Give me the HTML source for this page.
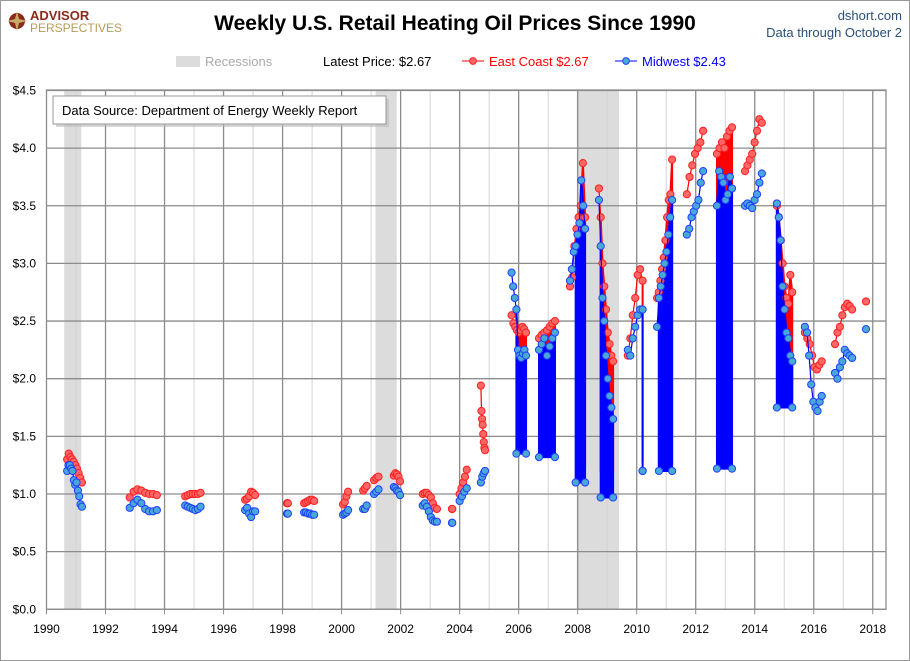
<!DOCTYPE html>
<html><head><meta charset="utf-8"><style>
body{margin:0;background:#fff;font-family:"Liberation Sans",sans-serif}
#wrap{position:relative;width:910px;height:661px;overflow:hidden}
</style></head><body>
<div id="wrap">
<svg id="chart" width="910" height="661" viewBox="0 0 910 661"></svg>
</div>
<script>
const recessions=[[1990.6,1991.18],[2001.15,2001.87],[2007.97,2009.4]];
const yTicks=[0,0.5,1,1.5,2,2.5,3,3.5,4,4.5];
const yTickLabels=["$0.0","$0.5","$1.0","$1.5","$2.0","$2.5","$3.0","$3.5","$4.0","$4.5"];
const xTicks=[1990,1992,1994,1996,1998,2000,2002,2004,2006,2008,2010,2012,2014,2016,2018];
const seasonStart=[1990.7,1992.82,1994.7,1996.73,1998.15,1998.73,2000.05,2000.73,2001.1,2001.77,2002.75,2003.74,2004.0,2004.72,2005.76,2006.69,2007.74,2008.72,2009.7,2010.69,2011.7,2012.72,2013.67,2014.75,2015.7,2016.72,2017.77];
const seasonEnd=[1991.2,1993.74,1995.22,1997.07,1998.18,1999.07,2000.22,2000.85,2001.25,2001.98,2003.23,2003.75,2004.24,2004.86,2006.25,2007.23,2008.25,2009.2,2010.2,2011.2,2012.25,2013.23,2014.24,2015.27,2016.27,2017.3,2017.78];
const eastVals=[
[1.30,1.35,1.32,1.30,1.28,1.25,1.22,1.18,1.14,1.10],
[0.97,1.02,1.04,1.03,1.01,1.00,1.00,0.99],
[0.98,0.99,1.00,1.00,1.00,1.00,1.01],
[0.95,0.96,0.98,1.02,1.01,0.99],
[0.92,0.92],
[0.92,0.93,0.94,0.95,0.95,0.94],
[0.91,0.93,0.98,1.02],
[1.03,1.05,1.07],
[1.12,1.14,1.15],
[1.16,1.18,1.17,1.15,1.11],
[1.00,1.01,1.01,0.99,0.97,0.92,0.88,0.87],
[0.87,0.87],
[1.00,1.05,1.10,1.15,1.21],
[1.94,1.72,1.65,1.60,1.52,1.45,1.40,1.38],
[2.55,2.48,2.45,2.42,2.40,2.42,2.45,2.43,2.40],
[2.35,2.38,2.40,2.42,2.45,2.48,2.50],
[2.80,2.88,3.15,3.30,3.40,3.50,3.87,3.40],
[3.65,3.40,3.00,2.80,2.60,2.40,2.30,2.20,2.15],
[2.20,2.35,2.55,2.70,2.90,2.95,2.85],
[2.70,2.75,2.85,2.95,3.05,3.20,3.40,3.55,3.60,3.90],
[3.60,3.75,3.85,3.95,4.00,4.05,4.15],
[3.95,4.00,4.05,4.00,4.10,4.15,4.18],
[3.80,3.85,3.90,3.95,4.05,4.15,4.25,4.22],
[3.50,3.40,3.20,3.00,2.80,2.70,2.65,2.90,2.75],
[2.40,2.35,2.30,2.20,2.10,2.08,2.12,2.15],
[2.30,2.40,2.45,2.55,2.62,2.65,2.63,2.60],
[2.67]];
const midVals=[
[1.20,1.25,1.25,1.22,1.20,1.12,1.08,1.10,1.03,0.98,0.91,0.89],
[0.88,0.92,0.95,0.92,0.87,0.85,0.85,0.86],
[0.90,0.89,0.88,0.87,0.86,0.87,0.89],
[0.86,0.88,0.83,0.80,0.85,0.85],
[0.83,0.83],
[0.84,0.84,0.83,0.83,0.82,0.82],
[0.82,0.83,0.84,0.86],
[0.87,0.87,0.90],
[1.00,1.02,1.04],
[1.06,1.05,1.03,1.02,0.99],
[0.90,0.92,0.89,0.85,0.80,0.77,0.76,0.76],
[0.75,0.75],
[0.94,0.98,1.02,1.05],
[1.10,1.15,1.18,1.20],
[2.92,2.80,2.70,2.60,2.25,2.20,2.18,2.22,2.25,2.20],
[2.25,2.30,2.35,2.20,2.28,2.35,2.40],
[2.85,2.95,3.10,3.15,3.25,3.35,3.72,3.50,3.30],
[3.55,3.15,2.70,2.50,2.20,2.00,1.85,1.75,1.65],
[2.25,2.20,2.35,2.45,2.55,2.60,2.60],
[2.45,2.70,2.80,2.90,3.00,3.10,3.25,3.40,3.55],
[3.25,3.30,3.40,3.45,3.50,3.55,3.70,3.80],
[3.50,3.80,3.75,3.70,3.55,3.60,3.75,3.65],
[3.50,3.52,3.50,3.48,3.55,3.60,3.70,3.78],
[3.52,3.40,3.20,2.80,2.60,2.40,2.35,2.20,2.15],
[2.45,2.40,2.20,1.95,1.80,1.75,1.72,1.80,1.85],
[2.05,2.00,2.10,2.15,2.25,2.22,2.20,2.18],
[2.43]];
// band seasons (index into seasons), low values reached by the zig-zag, and fraction where band starts
const bandSeason=[14,15,16,17,18,19,21,23];
const bandLowEast=[1.55,1.55,1.25,1.20,1.28,1.25,1.35,1.82];
const bandLowMid=[1.35,1.32,1.10,0.97,1.20,1.20,1.22,1.75];
const bandFrom=[0.3,0,0.3,0.05,0.9,0.05,0,0];

const NS="http://www.w3.org/2000/svg";
const svg=document.getElementById('chart');
const L=46.5,R=886,T=90,B=609.3;
const X=t=>L+(t-1990)*29.51;
const Y=v=>B-v*115.3;
function mk(tag,attrs,parent){const e=document.createElementNS(NS,tag);for(const k in attrs)e.setAttribute(k,attrs[k]);(parent||svg).appendChild(e);return e;}

// border
let e=mk('rect',{x:0.5,y:0.5,width:909,height:660,fill:'#fff',stroke:'#999'});



// recessions
const gRec=mk('g',{});


recessions.forEach(r=>{const b=mk('rect',{x:X(r[0]),y:T,width:X(r[1])-X(r[0]),height:B-T,fill:'#dcdcdc'},gRec);

});

// grid
const gGrid=mk('g',{});


for(let yr=1991;yr<=2018;yr++){const major=(yr%2===0);
 mk('line',{x1:X(yr),x2:X(yr),y1:T,y2:B,stroke:major?'#8c8c8c':'#d4d4d4','stroke-width':major?1.3:1},gGrid);}
yTicks.forEach(v=>mk('line',{x1:L,x2:R,y1:Y(v),y2:Y(v),stroke:'#8c8c8c','stroke-width':1.3},gGrid));
e=mk('rect',{x:L,y:T,width:R-L,height:B-T,fill:'none',stroke:'#8c8c8c','stroke-width':1.3});



// axes labels
const gY=mk('g',{});


yTicks.forEach((v,i)=>{const t=mk('text',{x:36,y:Y(v)+4,'text-anchor':'end','font-size':12,fill:'#000'},gY);t.textContent=yTickLabels[i];

});
const gX=mk('g',{});


xTicks.forEach(yr=>{mk('line',{x1:X(yr),x2:X(yr),y1:B,y2:B+5,stroke:'#8c8c8c'},gX);
 const t=mk('text',{x:X(yr),y:633,'text-anchor':'middle','font-size':12,fill:'#000'},gX);t.textContent=yr;
 
 });

function pts(si,vals){const a=seasonStart[si],b=seasonEnd[si],n=vals.length;return vals.map((v,i)=>[n>1?a+(b-a)*i/(n-1):a,v]);}

// bands
const gBand=mk('g',{});


bandSeason.forEach((si,k)=>{
 const a=seasonStart[si]+(seasonEnd[si]-seasonStart[si])*bandFrom[k];
 const ep=pts(si,eastVals[si]).filter(p=>p[0]>=a-0.001), mp=pts(si,midVals[si]).filter(p=>p[0]>=a-0.001);
 if(ep.length){let d='M'+X(ep[0][0])+','+Y(bandLowEast[k]);ep.forEach(p=>d+=' L'+X(p[0])+','+Y(p[1]));d+=' L'+X(ep[ep.length-1][0])+','+Y(bandLowEast[k])+'Z';
  const r=mk('path',{d:d,fill:'#ff0000',stroke:'#ff0000','stroke-width':2},gBand);
  
  }
 if(mp.length){let d='M'+X(mp[0][0])+','+Y(bandLowMid[k]);mp.forEach(p=>d+=' L'+X(p[0])+','+Y(p[1]));d+=' L'+X(mp[mp.length-1][0])+','+Y(bandLowMid[k])+'Z';
  const r=mk('path',{d:d,fill:'#0000ff',stroke:'#0000ff','stroke-width':2},gBand);
  
  
  [0,mp.length-1].forEach(j=>{const c=mk('circle',{cx:X(mp[j][0]),cy:Y(bandLowMid[k]),r:3.6,fill:'#4aa8d8',stroke:'#1f3fff'},gBand);
   
   });}
});

// series
function series(vals,line,fill,stroke,name){
 const g=mk('g',{});
 
 
 vals.forEach((arr,si)=>{const p=pts(si,arr);
  if(p.length>1){const pl=mk('polyline',{points:p.map(q=>X(q[0])+','+Y(q[1])).join(' '),fill:'none',stroke:line,'stroke-width':1.2},g);
   
   }
  p.forEach(q=>{const c=mk('circle',{cx:X(q[0]),cy:Y(q[1]),r:3.6,fill:fill,stroke:stroke,'stroke-width':1},g);
   
   });
 });
}
// connectors between 2004 seasons
series(eastVals,'#ff0000','#ff6666','#ff2020','east-coast');
series(midVals,'#0000ff','#4aa8d8','#1f3fff','midwest');

// data source box
const gBox=mk('g',{});


mk('rect',{x:56,y:99,width:333,height:28,fill:'#bbb',opacity:0.6},gBox);
mk('rect',{x:53,y:96,width:333,height:28,fill:'#fff',stroke:'#999'},gBox);
e=mk('text',{x:62,y:115,'font-size':13,fill:'#000'},gBox);e.textContent='Data Source: Department of Energy Weekly Report';



// header
function txt(x,y,s,attrs,name){const t=mk('text',Object.assign({x:x,y:y},attrs));t.textContent=s;
 
 return t;}
txt(455,30,'Weekly U.S. Retail Heating Oil Prices Since 1990',{'text-anchor':'middle','font-size':21,'font-weight':'bold',fill:'#000'},'chart-title');
txt(902,20,'dshort.com',{'text-anchor':'end','font-size':13,fill:'#2a4f7a'},'site-name');
txt(902,37,'Data through October 2',{'text-anchor':'end','font-size':13,fill:'#2a4f7a'},'data-through-note');
// logo
const gLogo=mk('g',{});


mk('circle',{cx:17,cy:21,r:8,fill:'#8b2a1a'},gLogo);
mk('path',{d:'M17 11 L19 19 L27 21 L19 23 L17 31 L15 23 L7 21 L15 19Z',fill:'#c9a86a'},gLogo);
txt(30,20,'ADVISOR',{'font-size':13,'font-weight':'bold',fill:'#8b2a1a'},'logo-text-advisor');
txt(30,32,'PERSPECTIVES',{'font-size':12,fill:'#b89a5a'},'logo-text-perspectives');
// legend
const gLeg=mk('g',{});


mk('rect',{x:176,y:56,width:24,height:11,fill:'#dcdcdc'},gLeg);
txt(205,66,'Recessions',{'font-size':13,fill:'#aaa'},'legend-recessions');
txt(323,66,'Latest Price:  $2.67',{'font-size':13,fill:'#000'},'legend-latest-price');
mk('line',{x1:462,x2:484,y1:61,y2:61,stroke:'#ff0000'},gLeg);
mk('circle',{cx:473,cy:61,r:3.4,fill:'#ff6666',stroke:'#ff2020'},gLeg);
txt(489,66,'East Coast  $2.67',{'font-size':13,fill:'#ff0000'},'legend-east-coast');
mk('line',{x1:615,x2:637,y1:61,y2:61,stroke:'#0000ff'},gLeg);
mk('circle',{cx:626,cy:61,r:3.4,fill:'#4aa8d8',stroke:'#1f3fff'},gLeg);
txt(642,66,'Midwest  $2.43',{'font-size':13,fill:'#0000ff'},'legend-midwest');
</script>
</body></html>
